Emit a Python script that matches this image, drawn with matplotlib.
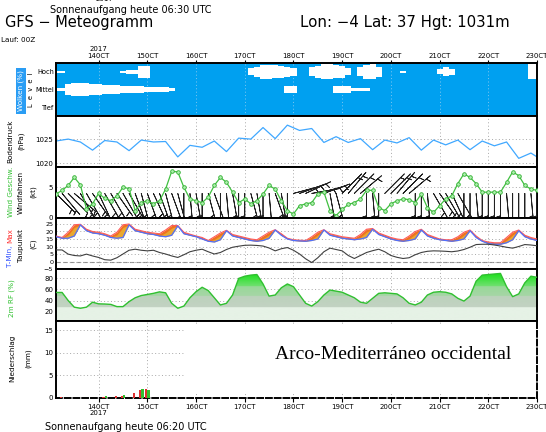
import numpy as np
import matplotlib
matplotlib.use("Agg")
from matplotlib import pyplot as plt
from matplotlib.colors import LinearSegmentedColormap
from matplotlib.patches import Rectangle, PathPatch

plt.rcParams["font.family"] = ["DejaVu Sans"]

# time axis: days since 13 Oct 2017 00 UTC, 3-hourly steps starting 03 UTC
t3 = np.arange(80) * 0.125 + 0.125
t6 = np.append(t3[::2], 10.0)

day_ticks = [1, 2, 3, 4, 5, 6, 7, 8, 9, 10]
day_labels = ["140CT", "150CT", "160CT", "170CT", "180CT", "190CT", "200CT", "210CT", "220CT", "230CT"]

# cloud cover (%) high / middle level
cloud_high = [10, 10, 0, 0, 0, 0, 0, 0, 0, 0, 0, 15, 25, 25, 65, 65,
              0, 0, 0, 0, 0, 0, 0, 0, 0, 0, 0, 0, 0, 0, 0, 0,
              40, 60, 80, 80, 75, 70, 55, 45, 0, 0, 50, 70, 85, 85, 75, 65,
              40, 0, 50, 80, 85, 60, 0, 0, 0, 15, 0, 0, 0, 0, 0, 30,
              50, 35, 0, 0, 0, 0, 0, 0, 0, 0, 0, 0, 0, 0, 85, 85]
cloud_mid = [15, 15, 60, 75, 75, 70, 60, 60, 55, 55, 50, 45, 40, 35, 35, 25,
             30, 30, 25, 15, 0, 0, 0, 0, 0, 0, 0, 0, 0, 0, 0, 0,
             0, 0, 0, 0, 0, 0, 45, 45, 0, 0, 0, 0, 0, 0, 45, 45,
             40, 15, 15, 15, 0, 0, 0, 0, 0, 0, 0, 0, 0, 0, 0, 0,
             0, 0, 0, 0, 0, 0, 0, 0, 0, 0, 0, 0, 0, 0, 0, 0]

# surface pressure (hPa), 6-hourly
pressure = [1024.6, 1025.0, 1024.4, 1022.7, 1024.7, 1024.4, 1022.6, 1024.8, 1024.4, 1024.5,
            1021.3, 1023.7, 1023.3, 1024.6, 1022.4, 1025.2, 1025.0, 1027.4, 1025.1, 1027.9,
            1026.8, 1027.2, 1024.3, 1025.5, 1024.3, 1025.1, 1022.8, 1024.8, 1024.2, 1025.3,
            1022.7, 1024.8, 1023.8, 1024.8, 1022.8, 1024.6, 1023.6, 1024.4, 1021.0, 1022.1, 1021.3]

# wind speed (kt) and direction (deg, from)
wind_speed = [3.9, 4.5, 5.3, 6.6, 5.4, 1.5, 2.3, 4.0, 3.2, 2.8, 3.6, 5.0, 4.8, 1.2, 2.5, 2.8,
              2.3, 2.8, 4.7, 7.6, 7.5, 5.0, 3.1, 2.8, 2.5, 3.4, 5.3, 6.6, 5.8, 4.2, 2.5, 3.1,
              2.3, 2.8, 3.9, 5.3, 4.7, 2.8, 1.2, 0.65, 2.0, 2.3, 2.5, 3.9, 4.2, 1.2, 0.4, 1.4,
              2.2, 2.5, 3.1, 4.5, 4.5, 1.7, 1.2, 2.3, 2.8, 3.1, 3.0, 2.5, 3.9, 1.7, 0.9, 2.0,
              3.1, 3.6, 5.6, 7.2, 6.6, 5.6, 4.2, 4.2, 4.2, 4.2, 5.8, 7.5, 6.9, 5.3, 4.7, 4.5]
wind_dir = [135, 140, 135, 130,
            150, 150, 145, 155, 150, 150, 145, 150, 150,
            160, 165, 160, 155, 160, 165, 160, 165,
            180, 175, 170, 180, 165, 160, 180, 175, 170, 180, 180, 165, 170, 180, 175, 160, 170, 180,
            75, 70, 65, 80, 75, 70,
            170, 165,
            45, 40, 45, 50,
            180, 175, 180,
            45, 45, 40, 45, 50,
            180, 180, 175,
            150, 145, 150, 155, 150,
            180, 180, 175, 180, 180, 180, 180, 175, 180, 180, 180, 175, 180]

# temperature (C): 3h temperature (blue), period max (red), dew point
t_min = [16.5, 15.5, 15.5, 17.0, 24.4, 20.5, 19.0, 18.5,
         17.5, 16.0, 15.5, 16.0, 24.4, 20.5, 19.5, 18.5,
         18.0, 17.0, 16.5, 17.5, 23.7, 18.5, 17.5, 16.5,
         15.0, 13.5, 13.0, 14.5, 20.5, 17.0, 16.0, 15.0,
         14.0, 13.5, 14.0, 15.5, 21.0, 17.5, 15.0, 14.0,
         13.7, 13.5, 14.0, 15.0, 21.0, 17.5, 16.5, 15.5,
         15.0, 14.5, 15.0, 16.0, 21.5, 18.0, 16.5, 15.0,
         14.0, 13.5, 14.0, 15.0, 21.0, 17.0, 15.5, 14.5,
         14.0, 13.5, 14.0, 15.0, 20.5, 16.0, 13.5, 12.0,
         11.5, 11.5, 12.5, 14.5, 20.5, 16.5, 15.0, 14.0]
t_max = [17.0, 16.0, 19.5, 24.5, 24.8, 21.5, 20.0, 19.5,
         18.5, 17.0, 19.5, 24.5, 25.0, 21.5, 20.5, 19.5,
         19.0, 18.5, 21.0, 24.0, 24.0, 19.5, 18.2, 17.0,
         16.0, 14.0, 16.5, 19.0, 20.8, 18.0, 17.0, 16.0,
         15.0, 14.5, 17.0, 19.5, 21.2, 18.5, 15.5, 14.5,
         14.2, 14.0, 16.5, 19.5, 21.2, 18.5, 17.5, 16.5,
         16.0, 15.5, 18.0, 21.5, 22.0, 19.0, 17.5, 16.0,
         15.0, 14.5, 17.0, 20.0, 21.5, 18.0, 16.5, 15.0,
         14.5, 14.5, 16.5, 19.5, 21.0, 17.0, 14.0, 13.0,
         12.5, 12.5, 16.0, 19.5, 21.0, 17.5, 16.0, 15.0]
dew_point = [7.7, 7.7, 4.9, 4.0, 3.7, 4.9, 3.7, 2.7, 1.2, 0.9, 2.5, 5.0, 7.5, 8.2, 7.5, 7.1,
             7.5, 6.0, 5.0, 3.7, 2.7, 4.5, 6.5, 7.5, 8.2, 6.5, 5.0, 6.0, 8.0, 9.5, 10.2, 10.8,
             10.9, 10.7, 10.3, 9.0, 7.1, 8.5, 9.3, 7.5, 5.0, 1.8, -0.7, 2.5, 6.5, 8.9, 8.0, 7.1,
             4.0, 2.0, 4.0, 6.0, 7.2, 8.2, 6.5, 4.0, 2.8, 2.0, 2.5, 4.5, 6.0, 6.8, 7.1, 7.0,
             6.8, 6.5, 7.0, 8.0, 9.5, 11.3, 11.5, 11.5, 11.0, 10.3, 9.5, 8.9, 10.0, 11.3, 11.0, 10.5]

# relative humidity 2m (%)
rh = [54.6, 54.6, 40, 28, 26, 28, 37, 34, 33.7, 33, 29, 29, 38, 45, 49, 51,
      53, 55.7, 54, 35, 26, 30, 45, 56, 64, 58, 45, 32, 35, 50, 80, 84,
      86, 87, 70, 48, 50, 63, 70, 65, 50, 35, 30, 38, 50, 59, 57, 55,
      50, 45, 37, 35, 44, 53, 54, 53, 52, 45, 35, 32, 37, 50, 55, 56,
      55, 52, 44, 39, 48, 75, 86, 87, 88, 89, 65, 47, 52, 72, 84, 82]

# precipitation (mm per 3h): step index, total, convective
rain_step = [0, 1, 8, 10, 11, 13, 14, 15]
rain_total = [2.0, 0.2, 0.3, 0.5, 0.4, 1.1, 1.8, 2.1]
rain_conv = [0.0, 0.0, 0.5, 0.0, 0.7, 0.0, 2.0, 1.8]

W, H = 546, 432
fig = plt.figure(figsize=(W / 100, H / 100), dpi=100)


def rect(top, bot):
    return [56 / W, 1 - bot / H, 481 / W, (bot - top) / H]


ax_c = fig.add_axes(rect(63, 116))
ax_p = fig.add_axes(rect(116, 167))
ax_w = fig.add_axes(rect(167, 218))
ax_t = fig.add_axes(rect(218, 269))
ax_r = fig.add_axes(rect(269, 321))
ax_n = fig.add_axes(rect(321, 398))
axes = [ax_c, ax_p, ax_w, ax_t, ax_r, ax_n]

grid_kw = dict(color="#a8a8a8", linestyle=(0, (1, 2.5)), linewidth=0.7)
for ax in axes:
    for s in ax.spines.values():
        s.set_linewidth(1.4)
    ax.tick_params(axis="y", length=0, pad=2, labelsize=5)
    ax.tick_params(axis="x", length=0, labelbottom=False)
    ax.set_xticks(day_ticks)
    ax.set_xlim(0.125, 10.0)
    ax.grid(True, **grid_kw)

# clouds
ax_c.set_facecolor("#00a0f0")
ax_c.set_ylim(0, 3)
ax_c.set_yticks([0.5, 1.5, 2.5])
ax_c.set_yticklabels(["Tief", "Mittel", "Hoch"])
ax_c.tick_params(axis="y", labelsize=4.8, pad=1.5)
ax_c.grid(False)
for d in day_ticks:
    ax_c.axvline(d, color="#80c8f0", linestyle=(0, (1, 2.5)), linewidth=0.7, zorder=1)
for level, cover in [(2.5, cloud_high), (1.5, cloud_mid)]:
    half = np.array(cover) / 100 * 0.5
    ax_c.fill_between(t3, level - half, level + half, step="mid", color="white", linewidth=0, zorder=2)
ax_c.xaxis.tick_top()
ax_c.tick_params(axis="x", length=2.5, width=0.8, direction="out", labeltop=True, labelsize=5, pad=0.5)
ax_c.set_xticklabels(["2017\n" + day_labels[0]] + day_labels[1:], linespacing=1.1)

# pressure
ax_p.plot(t6, pressure, color="#40a8ff", linewidth=0.9)
ax_p.set_ylim(1019.2, 1029.8)
ax_p.set_yticks([1020, 1025])

# wind
u = -np.array(wind_speed) * np.sin(np.radians(wind_dir))
v = -np.array(wind_speed) * np.cos(np.radians(wind_dir))
ax_w.barbs(t3, np.full(len(t3), 4.0), u, v, length=6.3, linewidth=0.6, color="#202020",
           barb_increments=dict(half=0.3, full=5, flag=50), rounding=False,
           sizes=dict(emptybarb=0.0, height=0.35, width=0.25), zorder=3)
ax_w.plot(t3, wind_speed, color="#40c040", linewidth=0.9, marker="o", markersize=2.6,
          markerfacecolor="#b0f0b0", markeredgecolor="#30b030", markeredgewidth=0.6, zorder=4)
ax_w.set_ylim(0, 8.3)
ax_w.set_yticks([0, 5])

# temperature
tmn = np.array(t_min)
tmx = np.array(t_max)
ax_t.fill_between(t3, tmn, tmx, color="#e8a830", linewidth=0, zorder=2)
ax_t.fill_between(t3, np.maximum(tmn, tmx - 1.8), tmx, color="#f07020", linewidth=0, zorder=2)
ax_t.plot(t3, tmx, color="#ff5a5a", linewidth=0.8, zorder=3)
ax_t.plot(t3, tmn, color="#5070ff", linewidth=0.9, zorder=3)
ax_t.plot(t3, dew_point, color="#404040", linewidth=0.8, zorder=3)
ax_t.axhline(0, color="#909090", linestyle=(0, (4, 2)), linewidth=0.8, zorder=1)
ax_t.set_ylim(-5, 29)
ax_t.set_yticks([-5, 0, 5, 10, 15, 20, 25])
ax_t.tick_params(axis="y", labelsize=4.6)

# relative humidity
ax_r.set_ylim(3, 97)
ax_r.set_yticks([20, 40, 60, 80])
ax_r.axhspan(3, 28, color="#e6f2e6", zorder=0.5, linewidth=0)
rh_cmap = LinearSegmentedColormap.from_list(
    "rh", [(0, "#e6f2e6"), (0.265, "#e6f2e6"), (0.266, "#c2d2c2"), (0.48, "#bcd2bc"),
           (0.481, "#a6d6a6"), (0.67, "#98d898"), (0.671, "#70e070"), (1.0, "#00e000")])
grad = np.linspace(0, 1, 256).reshape(-1, 1)
im = ax_r.imshow(grad, extent=[0.125, 10.0, 3, 97], origin="lower", aspect="auto",
                 cmap=rh_cmap, zorder=2)
poly = ax_r.fill_between(t3, 3, rh, facecolor="none", edgecolor="none")
clip = PathPatch(poly.get_paths()[0], transform=ax_r.transData, facecolor="none", edgecolor="none")
ax_r.add_patch(clip)
im.set_clip_path(clip)
ax_r.plot(t3, rh, color="#30c030", linewidth=1.0, zorder=3)
ax_r.set_xlim(0.125, 10.0)
ax_r.set_ylim(3, 97)

# precipitation
rt = t3[rain_step]
ax_n.bar(rt - 0.025, rain_total, width=0.045, color="#e03030", zorder=3)
ax_n.bar(rt + 0.025, rain_conv, width=0.045, color="#30c030", zorder=3)
ax_n.set_ylim(0, 17.1)
ax_n.set_yticks([0, 5, 10, 15])
ax_n.spines["bottom"].set_linestyle((0, (3, 1.5)))
ax_n.spines["right"].set_linestyle((0, (3, 1.5)))
ax_n.tick_params(axis="x", length=3, width=0.8, direction="out", labelbottom=True, labelsize=5, pad=1)
ax_n.set_xticklabels([day_labels[0] + "\n2017"] + day_labels[1:], linespacing=1.05)
ax_n.add_patch(Rectangle((0.268, 0.078), 0.732, 0.87, transform=ax_n.transAxes,
                         facecolor="white", edgecolor="none", zorder=2.5))
ax_n.text(0.70, 0.56, "Arco-Mediterráneo occidental", transform=ax_n.transAxes,
          ha="center", va="center", fontsize=14, family="Liberation Serif", zorder=4)

# header texts
fig.text(104 / W, 1 + 1 / H, "2017", fontsize=5, ha="center", va="center")
fig.text(50 / W, 1 - 13 / H, "Sonnenaufgang heute 06:30 UTC", fontsize=7, va="baseline")
fig.text(5 / W, 1 - 27 / H, "GFS \u2212 Meteogramm", fontsize=10.5, va="baseline")
fig.text(300 / W, 1 - 27 / H, "Lon: \u22124 Lat: 37 Hgt: 1031m", fontsize=10.8, va="baseline")
fig.text(1 / W, 1 - 40 / H, "Lauf: 00Z", fontsize=5.2, va="center")
fig.text(45 / W, 1 - 430 / H, "Sonnenaufgang heute 06:20 UTC", fontsize=7, va="baseline")


def ylab(x, y, s, color="black", size=5.2, **kw):
    fig.text(x / W, 1 - y / H, s, rotation=90, ha="center", va="center", fontsize=size, color=color, **kw)


ylab(21, 91, "Wolken (%)", color="white",
     bbox=dict(boxstyle="square,pad=0.3", facecolor="#2a9df4", edgecolor="none"))
ylab(31, 90, "L  e  v  e  l", size=4.8)
ylab(10, 141, "Bodendruck")
ylab(21, 141, "(hPa)")
ylab(11, 192, "Wind Geschw.", color="#30c030")
ylab(21, 192, "Windfahnen")
ylab(33, 192, "(kt)")
ylab(10, 256, "T-Min,", color="#3050ff")
ylab(10, 236, "Max", color="#ff3030")
ylab(21, 245, "Taupunkt")
ylab(33, 244, "(C)")
ylab(12, 298, "2m RF (%)", color="#30c030")
ylab(12, 358, "Niederschlag")
ylab(28, 358, "(mm)")

fig.savefig("out.png", dpi=100)
